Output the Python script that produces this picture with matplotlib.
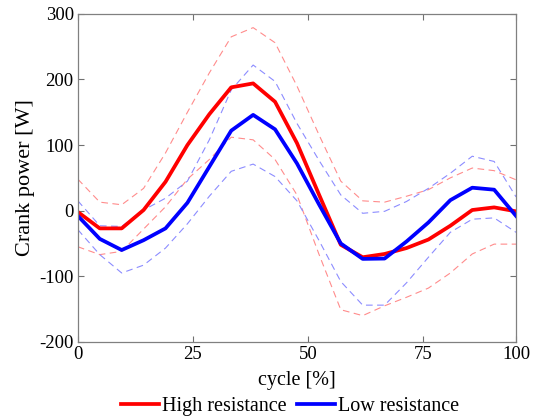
import numpy as np
import matplotlib
matplotlib.use("Agg")
import matplotlib.pyplot as plt

plt.rcParams['font.family'] = ['Liberation Serif', 'DejaVu Serif']
plt.rcParams['axes.unicode_minus'] = False

# sample index along the cycle (21 samples)
samples = list(range(21))

high_mean = [-2, -27, -27, 1, 44, 100, 147, 188, 194, 166, 103, 25, -52, -71, -66, -57, -44, -23, 1, 5, -1]
high_upper = [48, 13, 9, 34, 88, 150, 210, 265, 279, 256, 190, 116, 45, 15, 13, 22, 32, 50, 65, 61, 47]
high_lower = [-55, -67, -62, -28, 6, 48, 78, 112, 108, 78, 24, -66, -151, -160, -145, -132, -118, -95, -66, -51, -51]

low_mean = [-8, -43, -60, -45, -27, 12, 67, 122, 146, 124, 72, 10, -50, -73.5, -73, -47, -18, 16, 35, 32, -8]
low_upper = [15, -23, -24, 1, 19, 45, 108, 184, 222, 197, 133, 77, 24, -4, -1, 14, 34, 57, 83, 75, 21]
low_lower = [-29, -67, -95, -83, -57, -20, 22, 60, 71, 52, 15, -45, -108, -144, -144, -110, -71, -33, -13, -11, -33]

xtick_pos = [0, 5.25, 10.5, 15.75, 20]
xtick_labels = ['0', '25', '50', '75', '100']
yticks = [-200, -100, 0, 100, 200, 300]

fig = plt.figure(figsize=(5.37, 4.20), dpi=100)
ax = fig.add_axes([0.145, 0.186, 0.816, 0.781])

dash = (0, (6, 4))
ax.plot(samples, high_upper, color='#ff8c8c', lw=0.8, linestyle=dash)
ax.plot(samples, high_lower, color='#ff8c8c', lw=0.8, linestyle=dash)
ax.plot(samples, low_upper, color='#8c8cff', lw=0.8, linestyle=dash)
ax.plot(samples, low_lower, color='#8c8cff', lw=0.8, linestyle=dash)
l1, = ax.plot(samples, high_mean, color='#ff0000', lw=2.7, label='High resistance')
l2, = ax.plot(samples, low_mean, color='#0000ff', lw=2.7, label='Low resistance')

ax.set_xlim(0, 20)
ax.set_ylim(-200, 300)
ax.set_xticks(xtick_pos)
ax.set_xticklabels(xtick_labels)
ax.set_yticks(yticks)
ax.tick_params(direction='in', top=True, right=True, length=4, width=0.8,
               color='#707070', labelsize=13.5, pad=3)
for s in ax.spines.values():
    s.set_color('#808080')
    s.set_linewidth(0.9)

ax.set_xlabel('cycle [%]', fontsize=14.5, labelpad=6)
ax.set_ylabel('Crank power [W]', fontsize=16, labelpad=3)

fig.legend(handles=[l1, l2], loc='center', bbox_to_anchor=(0.54, 0.032), ncol=2,
           frameon=False, fontsize=14.5, handlelength=1.9, handletextpad=0.15,
           columnspacing=0.5, borderpad=0)

fig.savefig('out.png', dpi=100)
